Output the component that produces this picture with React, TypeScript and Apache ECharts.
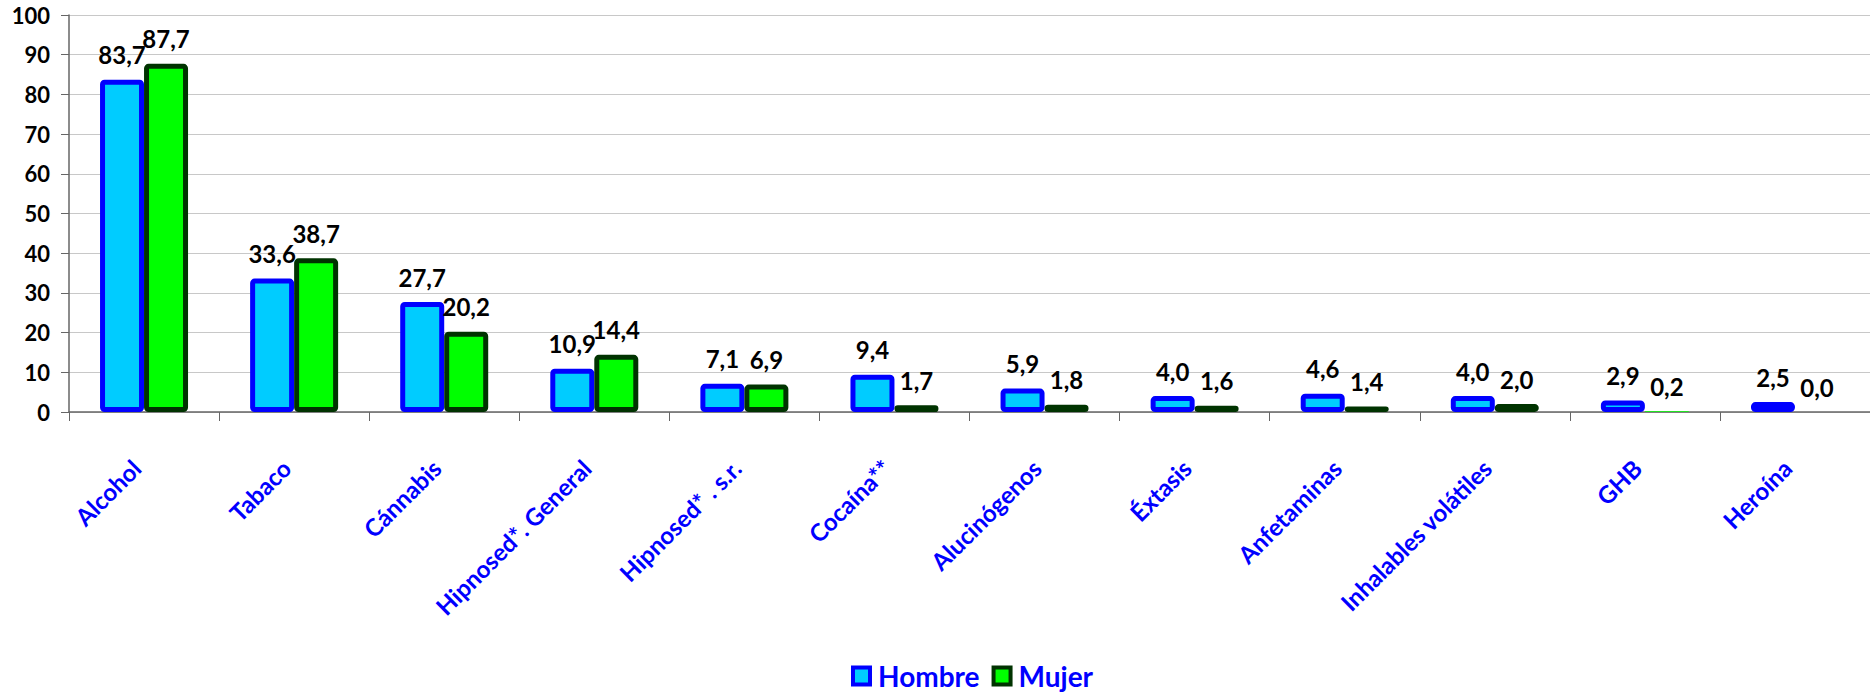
import React, { useEffect, useRef } from "react";
import * as echarts from "echarts";

const categories = [
  "Alcohol",
  "Tabaco",
  "Cánnabis",
  "Hipnosed*. General",
  "Hipnosed* . s.r.",
  "Cocaína**",
  "Alucinógenos",
  "Éxtasis",
  "Anfetaminas",
  "Inhalables volátiles",
  "GHB",
  "Heroína",
];
const hombre = [83.7, 33.6, 27.7, 10.9, 7.1, 9.4, 5.9, 4.0, 4.6, 4.0, 2.9, 2.5];
const mujer = [87.7, 38.7, 20.2, 14.4, 6.9, 1.7, 1.8, 1.6, 1.4, 2.0, 0.2, 0.0];
const seriesNames = ["Hombre", "Mujer"];

const FONT = "Lato, 'Open Sans', sans-serif";
const fmt = (v: number) => v.toFixed(1).replace(".", ",");

export default function App() {
  const ref = useRef<HTMLDivElement>(null);
  useEffect(() => {
    if (!ref.current) return;
    const chart = echarts.init(ref.current, undefined, { renderer: "svg" });
    const styles = [
      { color: "#00CCFF", borderColor: "#0000FF" },
      { color: "#00FF00", borderColor: "#003300" },
    ];
    const mk = (vals: number[], i: number) => ({
      name: seriesNames[i],
      type: "bar",
      barWidth: 44,
      barGap: "0%",
      itemStyle: { ...styles[i], borderWidth: 5, borderRadius: 2 },
      label: {
        show: true,
        position: "top",
        distance: 13,
        color: "#000",
        fontFamily: FONT,
        fontWeight: "bold",
        fontSize: 24,
        formatter: (p: any) => fmt(p.value),
      },
      data: vals.map((v) =>
        v < 0.5 ? { value: v, itemStyle: { borderWidth: 0 } } : v
      ),
    });
    chart.setOption({
      animation: false,
      textStyle: { fontFamily: FONT },
      grid: { left: 69, right: 0, top: 15, bottom: 283, containLabel: false },
      legend: {
        left: 846,
        top: 657,
        icon: "rect",
        itemWidth: 17,
        itemHeight: 17,
        itemGap: 12,
        textStyle: {
          color: "#0000FF",
          fontWeight: "bold",
          fontSize: 28,
          fontFamily: FONT,
          padding: [0, 0, 0, 3],
        },
        data: seriesNames.map((n, i) => ({
          name: n,
          itemStyle: { ...styles[i], borderWidth: 4 },
        })),
      },
      xAxis: {
        type: "category",
        data: categories,
        axisLine: { lineStyle: { color: "#666", width: 1.5 } },
        axisTick: { show: true, length: 9, interval: 0, lineStyle: { color: "#666" } },
        axisLabel: {
          interval: 0,
          rotate: 45,
          margin: 44,
          padding: [0, 11, 21, 0],
          color: "#0000FF",
          fontWeight: "bold",
          fontSize: 24,
          fontFamily: FONT,
        },
      },
      yAxis: {
        type: "value",
        min: 0,
        max: 100,
        interval: 10,
        axisLine: { show: true, lineStyle: { color: "#666", width: 1.5 } },
        axisTick: { show: true, length: 8, lineStyle: { color: "#666" } },
        splitLine: { lineStyle: { color: "#c8c8c8", width: 1 } },
        axisLabel: {
          margin: 19,
          color: "#000",
          fontWeight: "bold",
          fontSize: 22,
          fontFamily: FONT,
        },
      },
      series: [mk(hombre, 0), mk(mujer, 1)],
    });
    return () => chart.dispose();
  }, []);
  return (
    <div
      ref={ref}
      style={{ position: "absolute", left: 0, top: 0, width: 1870, height: 695, background: "#fff" }}
    />
  );
}
